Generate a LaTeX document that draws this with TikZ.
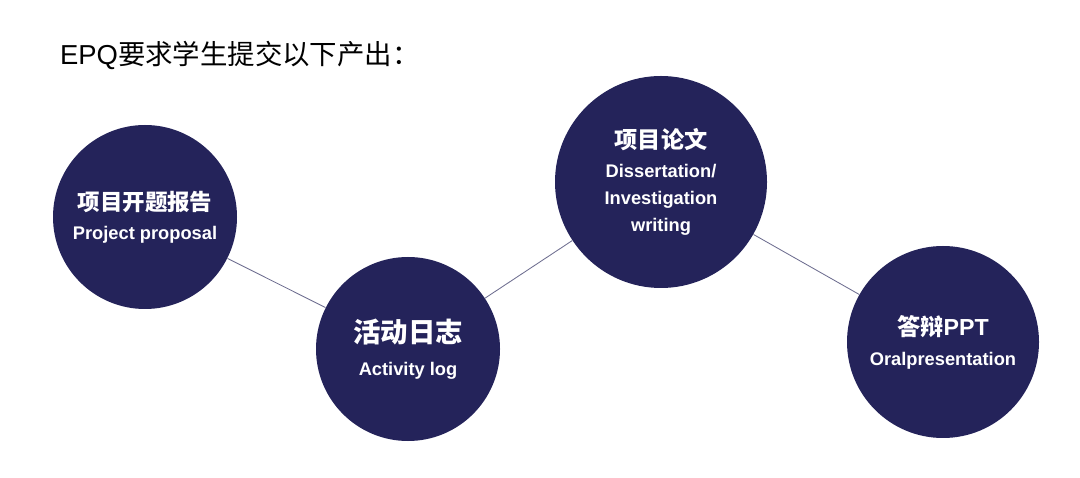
\documentclass[tikz,border=0pt]{standalone}
\usepackage{fontspec}
\setmainfont{Liberation Sans}
\newfontfamily\cjk{Noto Sans CJK SC}
\usepackage{xcolor}
\usepackage{tikz}
\usetikzlibrary{positioning}
\definecolor{stagenavy}{HTML}{24235A}
\definecolor{linkgray}{HTML}{6E6E90}
\newcommand\zhline[2][16]{{\cjk\bfseries\fontsize{#1}{19.5}\selectfont #2}}

\begin{document}
\begin{tikzpicture}[
          stage/.style={
              circle,
              fill=stagenavy,
              text=white,
              inner sep=0pt,
              minimum size=#1,
              align=center,
              font=\fontsize{13}{19.5}\selectfont\bfseries
            },stage/.default=4.6cm,
          link/.style={
              draw=linkgray,
              line width=0.6pt
            }
        ]
        % 背景と範囲
        \useasboundingbox[fill=white] (0,0) rectangle (27,11.925);

        % 見出し
        \node[anchor=base west, font=\fontsize{19.5}{24}\selectfont] (title) at (1.38,10.3)
          {EPQ{\cjk 要求学生提交以下产出：}};

        % 四つの段階
        \node[stage] (proposal) at (3.625,6.5)
          {\zhline{项目开题报告}\\[1pt] Project proposal};
        \node[stage] (log) at (10.2,3.2)
          {\zhline[19.5]{活动日志}\\[4pt] Activity log};
        \node[stage=5.3cm] (essay) at (16.525,7.375)
          {\zhline[16.5]{项目论文}\\[1pt] Dissertation/\\ Investigation\\ writing};
        \node[stage=4.8cm] (oral) at (23.575,3.375)
          {\zhline[16.5]{答辩{\fontspec{Liberation Sans}\bfseries PPT}}\\[2pt] Oralpresentation};

        % 段階を結ぶ線
        \draw[link] (proposal) -- (log);
        \draw[link] (log) -- (essay);
        \draw[link] (essay) -- (oral);

      \end{tikzpicture}
\end{document}
